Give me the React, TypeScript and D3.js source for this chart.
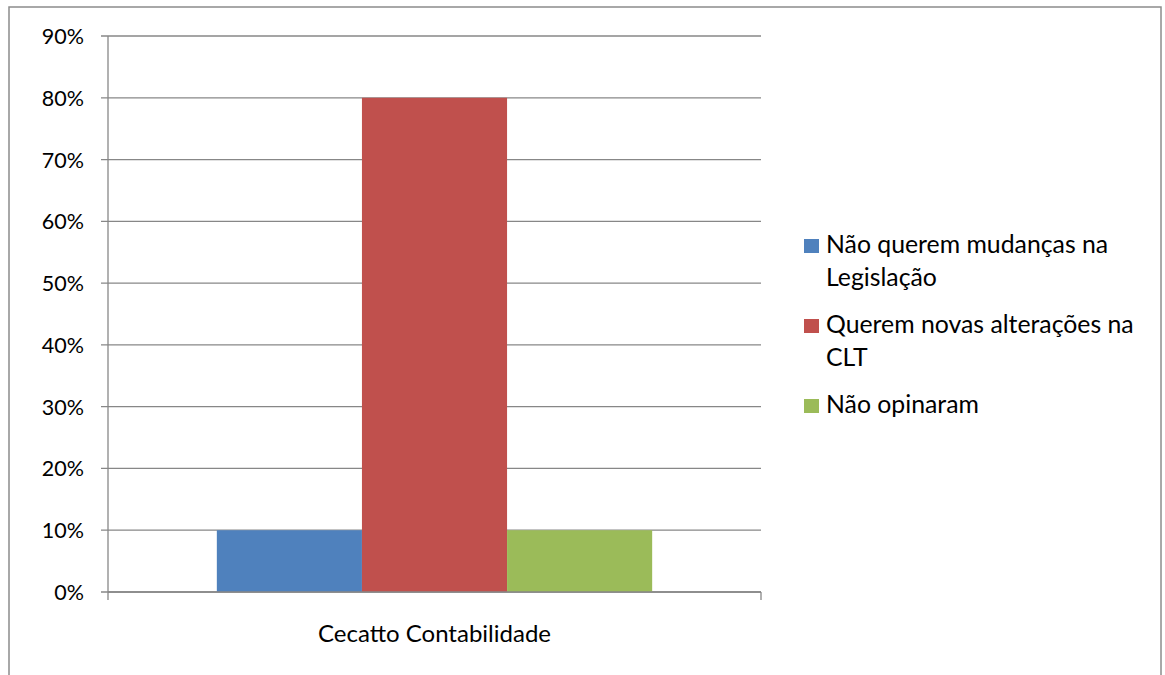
import React from "react";
import * as d3 from "d3";

const categories = ["Cecatto Contabilidade"];
const seriesNames = [
  ["Não querem mudanças na", "Legislação"],
  ["Querem novas alterações na", "CLT"],
  ["Não opinaram"],
];
const seriesValues = [0.1, 0.8, 0.1];
const seriesColors = ["#4F81BD", "#C0504D", "#9BBB59"];
const yTicks = [0, 0.1, 0.2, 0.3, 0.4, 0.5, 0.6, 0.7, 0.8, 0.9];

const FONT = "Lato, 'Open Sans', sans-serif";

export default function App() {
  const left = 108, right = 761, top = 36, bottom = 592;
  const y = d3.scaleLinear().domain([0, 0.9]).range([bottom, top]);
  const x0 = d3.scaleBand().domain(categories).range([left, right]).paddingInner(0).paddingOuter(0.25);
  const x1 = d3
    .scaleBand()
    .domain(seriesNames.map((_, i) => String(i)))
    .range([0, x0.bandwidth()]);
  const fmt = d3.format(".0%");
  const grid = "#878787";

  return (
    <svg
      width={1165}
      height={675}
      style={{ position: "absolute", left: 0, top: 0, background: "#fff" }}
      fontFamily={FONT}
    >
      <rect x={9} y={7} width={1152} height={680} fill="#fff" stroke="#8c8c8c" strokeWidth={1.5} />
      {yTicks.map((t) => (
        <g key={t}>
          <line x1={left - 7} x2={right} y1={y(t)} y2={y(t)} stroke={grid} strokeWidth={1.3} />
          <text x={84} y={y(t) + 8} textAnchor="end" fontSize={21.5} fill="#000">
            {fmt(t)}
          </text>
        </g>
      ))}
      <line x1={left} x2={left} y1={top} y2={bottom + 8} stroke={grid} strokeWidth={1.3} />
      <line x1={right} x2={right} y1={bottom} y2={bottom + 8} stroke={grid} strokeWidth={1.3} />
      {categories.map((c) =>
        seriesValues.map((v, i) => (
          <rect
            key={c + i}
            x={(x0(c) as number) + (x1(String(i)) as number)}
            y={y(v)}
            width={x1.bandwidth()}
            height={bottom - y(v)}
            fill={seriesColors[i]}
          />
        ))
      )}
      <line x1={left} x2={right} y1={bottom} y2={bottom} stroke={grid} strokeWidth={1.3} />
      {categories.map((c) => (
        <text key={c} x={(x0(c) as number) + x0.bandwidth() / 2} y={642} textAnchor="middle" fontSize={24} fill="#000">
          {c}
        </text>
      ))}
      {seriesNames.map((lines, i) => (
        <g key={i} transform={`translate(804, ${253 + i * 80})`}>
          <rect x={0} y={-14} width={15} height={14} fill={seriesColors[i]} />
          {lines.map((ln, j) => (
            <text key={j} x={22} y={j * 33} fontSize={24.8} fill="#000">
              {ln}
            </text>
          ))}
        </g>
      ))}
    </svg>
  );
}
